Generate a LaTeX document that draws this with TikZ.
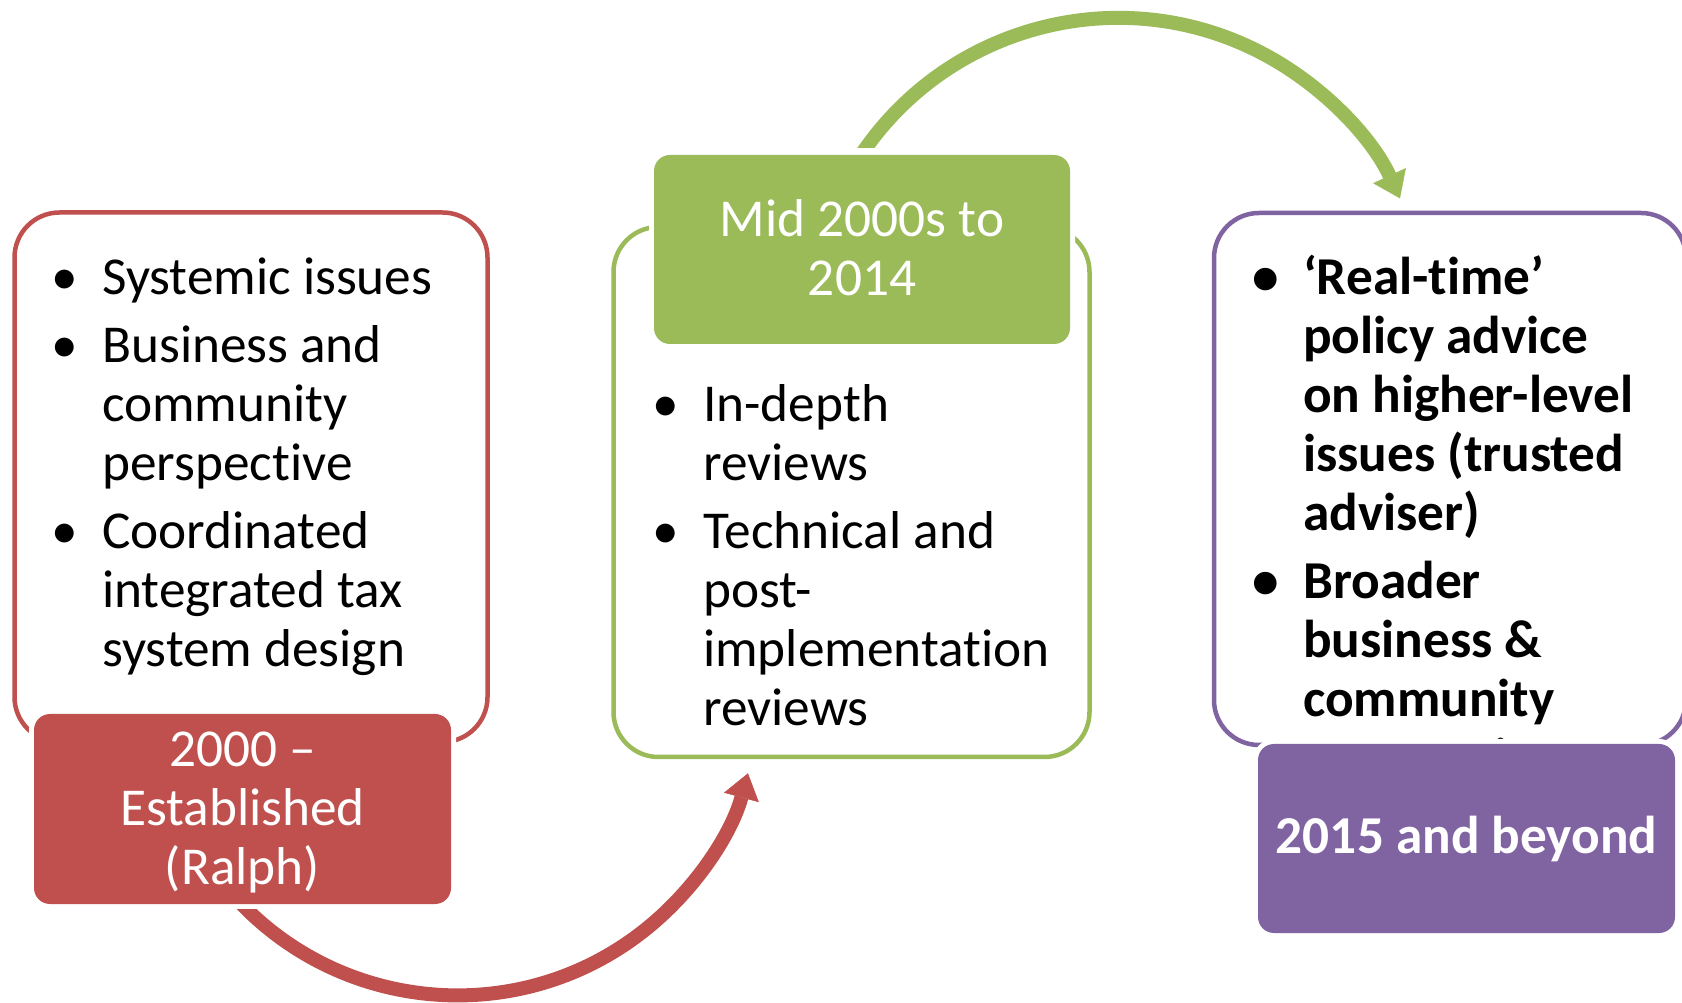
\documentclass[tikz,border=0pt]{standalone}
\usepackage{fontspec}
\setmainfont{Carlito}[Ligatures=NoCommon, RawFeature=-liga, RawFeature=-clig, RawFeature=-calt, RawFeature=-dlig]
\usetikzlibrary{arrows.meta}
\definecolor{cred}{HTML}{C0504D}
\definecolor{cgreen}{HTML}{9BBB59}
\definecolor{cpurple}{HTML}{8064A2}
\newcommand{\bul}{\makebox[74pt]{\textbullet}}
\newcommand{\bodyfont}{\fontsize{53.3}{59}\selectfont}
\begin{document}
\begin{tikzpicture}[x=1pt,y=1pt,
  outerbox/.style={rectangle, draw, line width=4.5, rounded corners=45, inner sep=0},
  titlebox/.style={rectangle, rounded corners=16, inner sep=0, text=white, align=center,
    font=\bodyfont, preaction={draw=white, line width=10}},
  titletext/.style={inner sep=0, text=white, font=\bodyfont},
  listtext/.style={anchor=base west, inner sep=0, font=\bodyfont},
  flowarrow/.style={line width=14, -{Triangle[length=25pt,width=36pt,line width=0.5pt]}}]
\path[use as bounding box, fill=white] (0,0) rectangle (1682,1002);

% outer boxes
\node[outerbox, draw=cred, minimum width=473, minimum height=529.5] (redout) at (251,524.75) {};
\node[outerbox, draw=cgreen, minimum width=476, minimum height=530] (greenout) at (851.5,510) {};
\node[outerbox, draw=cpurple, minimum width=472, minimum height=532] (purpleout) at (1450,523) {};

% lists
\node[listtext] (redlist) at (28,707) {\begin{tabular}[t]{@{}l@{}l@{}}
\bul & Systemic issues\\[9pt]
\bul & Business and\\
 & community\\
 & perspective\\[9pt]
\bul & Coordinated\\
 & integrated tax\\
 & system design
\end{tabular}};

\node[listtext] (greenlist) at (629,580) {\begin{tabular}[t]{@{}l@{}l@{}}
\bul & In-depth\\
 & reviews\\[9pt]
\bul & Technical and\\
 & post-\\
 & implementat\kern0pt ion\\
 & reviews
\end{tabular}};

\node[listtext, font=\bodyfont\bfseries] (purplelist) at (1229,707) {\begin{tabular}[t]{@{}l@{}l@{}}
\bul & ‘Real-t\kern0pt ime’\\
 & policy advice\\
 & on higher-level\\
 & issues (trusted\\
 & adviser)\\[9pt]
\bul & Broader\\
 & business \&\\
 & community\\
 & perspect\kern0pt ive
\end{tabular}};

% title boxes
\node[titlebox, fill=cred, minimum width=417, minimum height=190] (redtitle) at (242.5,193) {};
\node[titletext] (redtitletext) at ([yshift=-4.5]redtitle.center)
  {\begin{tabular}{@{}c@{}}2000 –\\Established\\(Ralph)\end{tabular}};
\node[titlebox, fill=cgreen, minimum width=416, minimum height=189] (greentitle) at (862,752.5) {};
\node[titletext] (greentitletext) at ([yshift=-4.5]greentitle.center)
  {\begin{tabular}{@{}c@{}}Mid 2000s to\\2014\end{tabular}};
\node[titlebox, fill=cpurple, minimum width=417, minimum height=189, font=\bodyfont\bfseries] (purpletitle) at (1466.5,163.5) {2015 and beyond};

% arrows
\coordinate (rc) at (457.5,307.6);
\begin{scope}
\clip (-10,-10) -- (1700,-10) -- (1700,1100) -- (350,1100) -- (350,93) -- (-10,93) -- cycle;
\draw[flowarrow, cred] ([shift={(220:301)}]rc) arc[start angle=220, end angle=344.8, radius=301];
\end{scope}

\coordinate (gc) at (1118.3,674.1);
\begin{scope}
\clip (-10,854) -- (950,854) -- (950,-10) -- (1700,-10) -- (1700,1100) -- (-10,1100) -- cycle;
\draw[flowarrow, cgreen] ([shift={(150:310)}]gc) arc[start angle=150, end angle=24.7, radius=310];
\end{scope}
\end{tikzpicture}
\end{document}
